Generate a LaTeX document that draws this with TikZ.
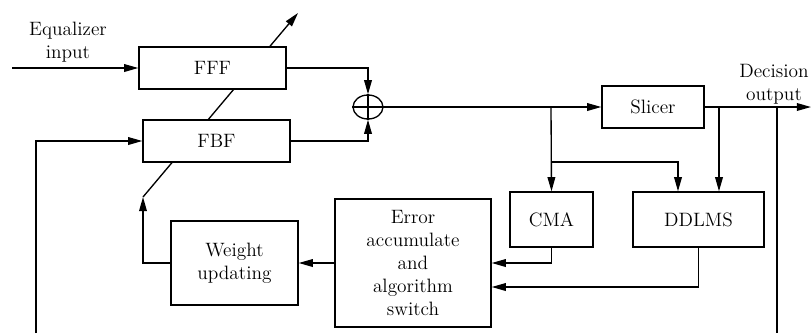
\documentclass[tikz,border=0pt]{standalone}
\usepackage{tikz}
\usetikzlibrary{arrows.meta,shapes.geometric}
\tikzset{
  blk/.style={draw=black,fill=white,line width=0.8pt,align=center,inner sep=0pt},
  sig/.style={-{Triangle[length=8.5pt,width=4.6pt]},line width=0.8pt},
  wire/.style={line width=0.8pt}
}
\begin{document}
\begin{tikzpicture}[x=0.6pt,y=-0.6pt,font=\fontsize{11.6}{13.8}\selectfont]
\useasboundingbox (0,0) rectangle (811,333);
\coordinate (sw) at (143,197);
\coordinate (tip) at (298,13);
\draw [sig] (sw) -- (tip);
\node [blk,minimum width=88.2pt,minimum height=25.2pt] (fff) at (212.5,68) {FFF};
\node [blk,minimum width=88.2pt,minimum height=25.2pt] (fbf) at (216.5,141) {FBF};
\node [draw=black,line width=0.8pt,ellipse,inner sep=0pt,minimum width=18pt,minimum height=14.4pt] (sum) at (368,107) {};
\draw [wire] (sum.north) -- (sum.south) (sum.west) -- (sum.east);
\node [blk,minimum width=61.2pt,minimum height=25.2pt] (slicer) at (653,107) {Slicer};
\node [blk,minimum width=49.8pt,minimum height=33pt] (cma) at (551.5,219.5) {CMA};
\node [blk,minimum width=78.6pt,minimum height=33pt] (ddlms) at (698.5,219.5) {DDLMS};
\node [blk,minimum width=93.6pt,minimum height=76.8pt] (err) at (413,263) {Error\\accumulate\\and\\algorithm\\switch};
\node [blk,minimum width=76.2pt,minimum height=50.4pt] (wgt) at (234.5,263) {Weight\\updating};
\coordinate (in) at (12,68);
\node [align=center,inner sep=0pt] (inlbl) at (68,42) {Equalizer\\input};
\draw [sig] (in) -- (fff.west);
\draw [sig] (fff.east) -| (sum.north);
\draw [sig] (fbf.east) -| (sum.south);
\draw [sig] (sum.east) -- (slicer.west);
\coordinate (b1) at (551,107);
\coordinate (b2) at (551,162);
\coordinate (d1) at (678,162);
\draw [sig] (b1) -- (cma.north);
\draw [sig] (b2) -- (d1) -- (d1 |- ddlms.north);
\coordinate (out) at (811,107);
\node [align=center,inner sep=0pt] (outlbl) at (774,84) {Decision\\output};
\draw [sig] (slicer.east) -- (out);
\coordinate (b3) at (719,107);
\coordinate (b4) at (777,107);
\coordinate (fbout) at (777,333);
\draw [sig] (b3) -- (b3 |- ddlms.north);
\draw [wire] (b4) -- (fbout);
\draw [sig] (cma.south) |- (err.east);
\draw [sig] (ddlms.south) |- ([yshift=-14.4pt]err.east);
\draw [sig] (err.west) -- (wgt.east);
\draw [sig] (wgt.west) -| (sw);
\coordinate (fbin) at (36,333);
\draw [sig] (fbin) |- (fbf.west);
\end{tikzpicture}
\end{document}
